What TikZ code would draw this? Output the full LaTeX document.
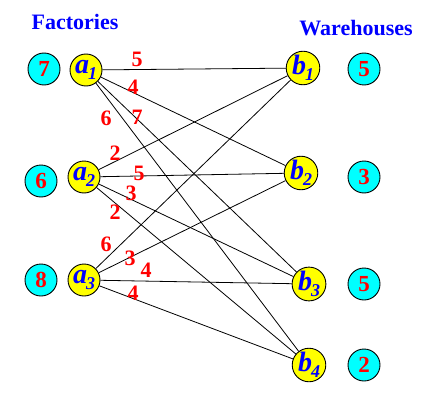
\documentclass[tikz,border=0pt]{standalone}
\usepackage{fontspec}
\setmainfont{Liberation Serif}
\newfontfamily\tnr{Liberation Serif}
\definecolor{cy}{RGB}{0,255,255}
\definecolor{ye}{RGB}{255,255,0}
\definecolor{rd}{RGB}{255,0,0}
\definecolor{bl}{RGB}{0,0,255}
\newcommand{\vsub}[2]{#1\kern-1pt\raisebox{-6pt}{\fontsize{18}{18}\selectfont #2}}
\begin{document}
\begin{tikzpicture}[x=1pt,y=-1pt,
  supply/.style={circle,draw=black,line width=0.9pt,fill=cy,minimum size=32pt,inner sep=0pt,text=rd,font=\tnr\fontsize{23}{23}\selectfont\bfseries},
  vert/.style={circle,draw=black,line width=0.9pt,fill=ye,minimum size=32pt,inner sep=0pt,text=bl,font=\tnr\fontsize{28}{28}\selectfont\bfseries\itshape},
  wlab/.style={text=rd,font=\tnr\fontsize{22}{22}\selectfont\bfseries,inner sep=0pt},
  head/.style={text=bl,font=\tnr\fontsize{22}{22}\selectfont\bfseries,inner sep=0pt},
  edge/.style={draw=black,line width=0.8pt}]
\useasboundingbox (0,0) rectangle (433,401);
\node[head] (fac) at (75,22) {Factories};
\node[head] (war) at (356,28) {Warehouses};
\node[supply] (s1) at (44,69) {7};
\node[supply] (s2) at (41,181) {6};
\node[supply] (s3) at (41,280) {8};
\node[vert] (a1) at (86,70) {\vsub{a}{1}};
\node[vert] (a2) at (84,177) {\vsub{a}{2}};
\node[vert] (a3) at (84,280) {\vsub{a}{3}};
\node[vert] (b1) at (303,68) {\vsub{b}{1}};
\node[vert] (b2) at (301,173) {\vsub{b}{2}};
\node[vert] (b3) at (309,284) {\vsub{b}{3}};
\node[vert] (b4) at (309,365) {\vsub{b}{4}};
\node[supply] (d1) at (364,69) {5};
\node[supply] (d2) at (364,177) {3};
\node[supply] (d3) at (364,284) {5};
\node[supply] (d4) at (364,365) {2};
\draw[edge] (a1) -- (b1);
\draw[edge] (a1) -- (b2);
\draw[edge] (a1) -- (b3);
\draw[edge] (a1) -- (b4);
\draw[edge] (a2) -- (b1);
\draw[edge] (a2) -- (b2);
\draw[edge] (a2) -- (b3);
\draw[edge] (a2) -- (b4);
\draw[edge] (a3) -- (b1);
\draw[edge] (a3) -- (b2);
\draw[edge] (a3) -- (b3);
\draw[edge] (a3) -- (b4);
\node[wlab] (l11) at (137,59) {5};
\node[wlab] (l12) at (133,87) {4};
\node[wlab] (l14) at (106,118) {6};
\node[wlab] (l13) at (137,117) {7};
\node[wlab] (l21) at (115,153) {2};
\node[wlab] (l22) at (139,173) {5};
\node[wlab] (l23) at (131,193) {3};
\node[wlab] (l24) at (115,212) {2};
\node[wlab] (l31) at (106,244) {6};
\node[wlab] (l32) at (130,258) {3};
\node[wlab] (l33) at (146,270) {4};
\node[wlab] (l34) at (133,293) {4};
\end{tikzpicture}
\end{document}
